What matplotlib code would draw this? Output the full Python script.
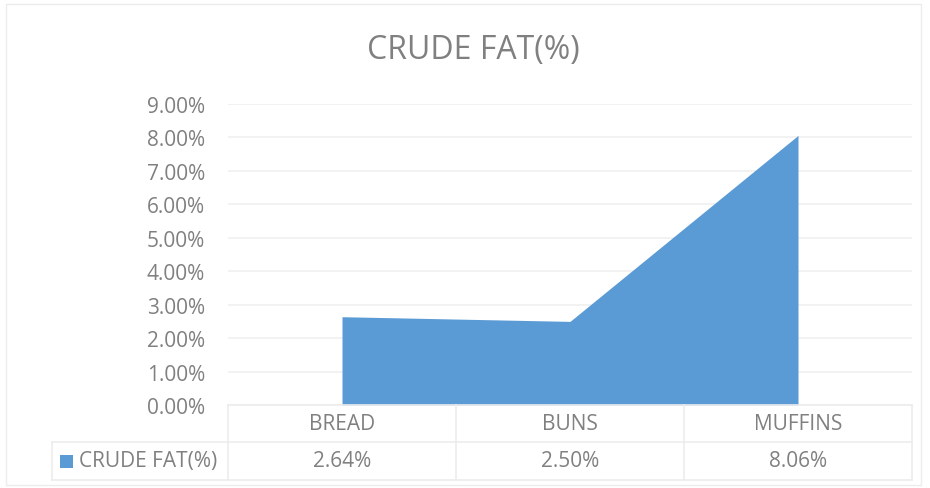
import numpy as np
import matplotlib.pyplot as plt
from matplotlib.patches import Rectangle
from matplotlib.lines import Line2D

categories = ['BREAD', 'BUNS', 'MUFFINS']
crude_fat = [0.0264, 0.0250, 0.0806]
series_name = 'CRUDE FAT(%)'
yticks = [0.00, 0.01, 0.02, 0.03, 0.04, 0.05, 0.06, 0.07, 0.08, 0.09]

W, H = 930, 489
blue = '#5B9BD5'
txt = '#808080'
grid = '#f0f0f0'
plt.rcParams['font.family'] = ['Open Sans', 'DejaVu Sans']

fig = plt.figure(figsize=(W / 100, H / 100), dpi=100)

def fx(px):
    return px / W

def fy(py):
    return 1 - py / H

# outer chart border
fig.add_artist(Rectangle((fx(6), fy(486)), fx(921) - fx(6), fy(5) - fy(486),
                         transform=fig.transFigure, fill=False, ec='#ececec', lw=1))

left, right, top, bottom = 228, 912, 105, 406
ax = fig.add_axes([fx(left), fy(bottom), fx(right) - fx(left), fy(top) - fy(bottom)])
x = np.arange(len(categories))
ax.fill_between(x, crude_fat, 0, color=blue, lw=0, zorder=3)
ax.set_xlim(-0.5, len(categories) - 0.5)
ax.set_ylim(0, 0.09)
ax.set_yticks(yticks)
ax.set_yticklabels(['%.2f%%' % (v * 100) for v in yticks], color=txt, fontsize=15)
ax.yaxis.grid(True, color=grid, lw=1.2)
ax.set_axisbelow(True)
ax.tick_params(axis='y', length=0, pad=16.5)
ax.set_xticks([])
for s in ax.spines.values():
    s.set_visible(False)

fig.text(fx(473), fy(50), series_name, ha='center', va='center', fontsize=23, color=txt)

# data table
lc = '#ececec'
col_edges = [left + i * (right - left) / len(categories) for i in range(len(categories) + 1)]
row1, row2, row3 = 406, 443, 481
tbl_left = 52

def hline(x0, x1, y):
    fig.add_artist(Line2D([fx(x0), fx(x1)], [fy(y), fy(y)], transform=fig.transFigure, color=lc, lw=1.2))

def vline(xp, y0, y1):
    fig.add_artist(Line2D([fx(xp), fx(xp)], [fy(y0), fy(y1)], transform=fig.transFigure, color=lc, lw=1.2))

hline(left, right, row1)
hline(tbl_left, right, row2)
hline(tbl_left, right, row3)
vline(tbl_left, row2, row3)
for e in col_edges:
    vline(e, row1, row3)

for i, (c, v) in enumerate(zip(categories, crude_fat)):
    cx = (col_edges[i] + col_edges[i + 1]) / 2
    fig.text(fx(cx), fy((row1 + row2) / 2), c, ha='center', va='center', fontsize=15, color=txt)
    fig.text(fx(cx), fy((row2 + row3) / 2), '%.2f%%' % (v * 100), ha='center', va='center',
             fontsize=15, color=txt)

fig.add_artist(Rectangle((fx(60), fy(469)), fx(13) - fx(0), fy(456) - fy(469),
                         transform=fig.transFigure, color=blue, lw=0))
fig.text(fx(79), fy((row2 + row3) / 2), series_name, ha='left', va='center', fontsize=15, color=txt)

fig.savefig('out.png', dpi=100)
